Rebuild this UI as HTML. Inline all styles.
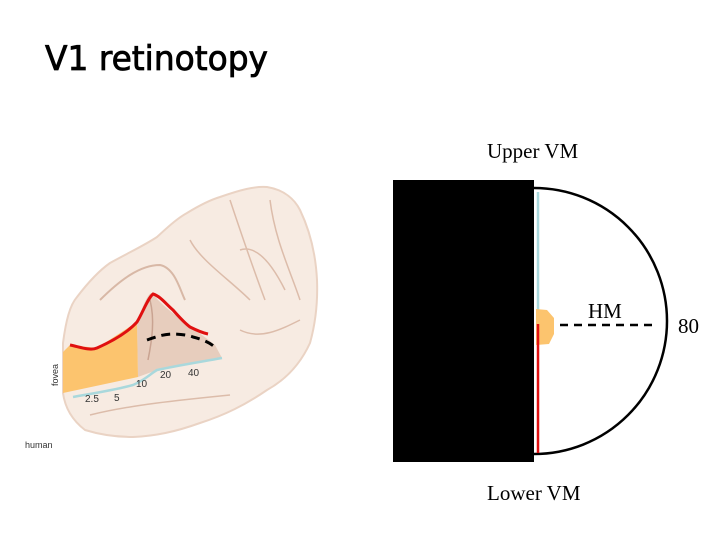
<!DOCTYPE html>
<html><head><meta charset="utf-8"><style>
html,body{margin:0;padding:0;background:#fff;}
svg{display:block}
</style></head><body>
<svg width="720" height="540" viewBox="0 0 720 540" xmlns="http://www.w3.org/2000/svg">
<text x="45" y="70" font-family="'Comic Sans MS','DejaVu Sans','Liberation Sans',sans-serif" font-size="34" textLength="223" lengthAdjust="spacingAndGlyphs" fill="#000" stroke="#000" stroke-width="0.8">V1 retinotopy</text>

<!-- brain -->
<path d="M63,343 C66,320 70,305 77,297 C90,280 100,270 110,263 C130,252 145,245 157,237 C170,225 178,218 187,213 C200,205 210,200 220,197 C240,190 255,186 267,187 C285,190 295,200 300,210 C312,235 316,260 317,280 C318,305 315,325 310,343 C300,365 285,380 267,390 C245,405 225,415 200,423 C175,432 155,436 133,437 C115,437 98,434 85,430 C72,420 65,408 63,393 Z" fill="#f7ebe2" stroke="#ead3c4" stroke-width="2"/>
<path d="M100,300 C120,280 140,265 160,265 C175,268 180,290 185,300" fill="none" stroke="#d8b8a6" stroke-width="2"/>
<path d="M137,322 C145,300 150,290 153,294 C165,310 190,325 215,345 L222,358 L157,370 L138,377 Z" fill="#e7cdbd"/>
<path d="M150,300 C155,320 152,340 148,360" fill="none" stroke="#c9a391" stroke-width="1.5"/>
<path d="M230,200 C240,230 250,260 265,300 M270,200 C275,240 290,270 300,300 M190,240 C200,260 230,280 250,300 M240,330 C260,340 280,330 300,320 M90,415 C130,405 180,400 230,395 M240,250 C255,245 270,260 285,290" fill="none" stroke="#dcbcaa" stroke-width="1.5"/>
<polygon points="63,352 70,345 97,348 137,322 138,377 63,393" fill="#fcc46e"/>
<path d="M70,345 C80,347 90,351 97,348 C115,340 128,332 137,322 C143,312 148,298 153,294 C160,296 166,304 173,310 C180,318 186,324 190,327 C198,331 203,333 208,334" fill="none" stroke="#e01010" stroke-width="3"/>
<path d="M147,340 C158,336 165,334 173,334 C180,334 188,335 193,337 C205,340 212,344 217,349" fill="none" stroke="#000" stroke-width="3" stroke-dasharray="9,6"/>
<path d="M73,397 C95,393 115,390 133,385 C145,380 150,374 157,370 C180,365 200,362 222,358" fill="none" stroke="#a9d8dc" stroke-width="2.5"/>
<g font-family="'Liberation Sans',sans-serif" font-size="10" fill="#333">
<text x="85" y="402">2.5</text><text x="114" y="401">5</text><text x="136" y="387">10</text><text x="160" y="378">20</text><text x="188" y="376">40</text>
<text x="25" y="448" font-size="9">human</text>
<text transform="translate(58,386) rotate(-90)" font-size="9">fovea</text>
</g>

<!-- visual field -->
<path d="M534,188 A133,133 0 0 1 534,454" fill="#fff" stroke="#000" stroke-width="2.5"/>
<rect x="393" y="180" width="141" height="282" fill="#000"/>
<line x1="538" y1="192" x2="538" y2="322" stroke="#a9d8dc" stroke-width="2.5"/>
<path d="M536,309 L547,310 L554,318 L554,334 L549,344 L536,345 Z" fill="#fcc46e"/>
<line x1="538" y1="324" x2="538" y2="453" stroke="#e01010" stroke-width="2.5"/>
<line x1="560" y1="325" x2="656" y2="325" stroke="#000" stroke-width="2.5" stroke-dasharray="8,6"/>
<g font-family="'Liberation Serif',serif" font-size="21" fill="#000">
<text x="487" y="158">Upper VM</text>
<text x="487" y="500">Lower VM</text>
<text x="588" y="318">HM</text>
<text x="678" y="333">80</text>
</g>
</svg>
</body></html>
